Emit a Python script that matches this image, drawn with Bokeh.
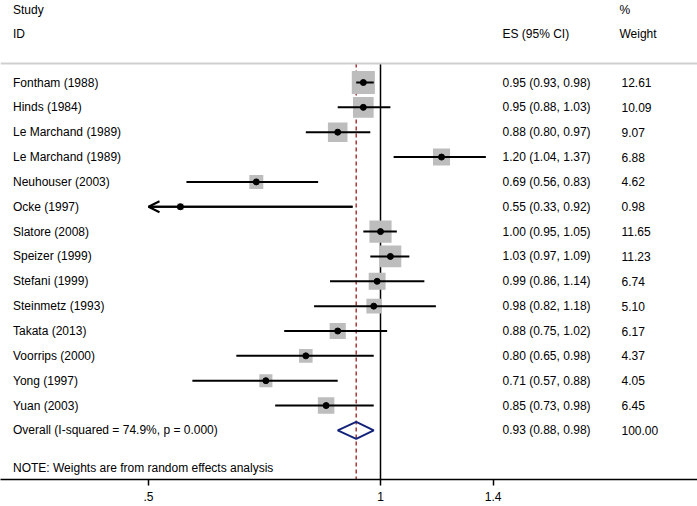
import math
from bokeh.plotting import figure
from bokeh.models import Range1d, FixedTicker, Arrow, OpenHead, Span, ColumnDataSource
from bokeh.core.properties import value
from bokeh.embed import file_html
from bokeh.resources import INLINE

# ---------------- data ----------------
studies = ["Fontham (1988)", "Hinds (1984)", "Le Marchand (1989)", "Le Marchand (1989)",
           "Neuhouser (2003)", "Ocke (1997)", "Slatore (2008)", "Speizer (1999)",
           "Stefani (1999)", "Steinmetz (1993)", "Takata (2013)", "Voorrips (2000)",
           "Yong (1997)", "Yuan (2003)"]
es = [0.95, 0.95, 0.88, 1.20, 0.69, 0.55, 1.00, 1.03, 0.99, 0.98, 0.88, 0.80, 0.71, 0.85]
ci_lo = [0.93, 0.88, 0.80, 1.04, 0.56, 0.33, 0.95, 0.97, 0.86, 0.82, 0.75, 0.65, 0.57, 0.73]
ci_hi = [0.98, 1.03, 0.97, 1.37, 0.83, 0.92, 1.05, 1.09, 1.14, 1.18, 1.02, 0.98, 0.88, 0.98]
weights = [12.61, 10.09, 9.07, 6.88, 4.62, 0.98, 11.65, 11.23, 6.74, 5.10, 6.17, 4.37, 4.05, 6.45]
overall_es, overall_lo, overall_hi, overall_w = 0.93, 0.88, 0.98, 100.00
i_squared, p_value = 74.9, 0.000
tick_values = [0.5, 1, 1.4]
tick_labels = [".5", "1", "1.4"]
note = "NOTE: Weights are from random effects analysis"

# ---------------- layout helpers ----------------
FONT = value("Liberation Sans")
FS = "12px"
PX_ONE = 380.0          # frame pixel of x = 1
PX_PER_LN = 334.7
ROW0 = 82.0             # frame pixel of first row
ROW_H = 24.85
FW, FH = 697, 479

def xpx(px):
    return math.exp((px - PX_ONE) / PX_PER_LN)

def ypx(py):
    return (py - ROW0) / ROW_H

x_min_clip = min(tick_values)

p = figure(frame_width=FW, frame_height=FH, x_axis_type="log",
           x_range=Range1d(xpx(0), xpx(FW)), y_range=Range1d(ypx(FH), ypx(0)),
           output_backend="svg", toolbar_location=None, y_axis_location=None,
           min_border=0, min_border_left=0, min_border_right=0, min_border_top=0)
p.xgrid.visible = False
p.ygrid.visible = False
p.outline_line_color = None
p.background_fill_color = "white"
p.border_fill_color = "white"

n = len(studies)
rows = list(range(n))
overall_row = n
sep_y = ypx(63)

# header separator
p.add_layout(Span(location=sep_y, dimension="width", line_color="#cfcfcf", line_width=2))

# vertical lines
p.segment(x0=[1], x1=[1], y0=[sep_y], y1=[ypx(FH)], line_color="black", line_width=1.5)
p.segment(x0=[overall_es], x1=[overall_es], y0=[sep_y], y1=[ypx(FH)],
          line_color="#a8373a", line_width=1.5, line_dash="4 3")

# weight squares
src = ColumnDataSource(dict(
    y=rows, es=es, lo=[max(l, x_min_clip) for l in ci_lo], hi=ci_hi,
    size=[6.5 * math.sqrt(w) for w in weights]))
p.scatter(x="es", y="y", size="size", marker="square", source=src,
          fill_color="#bdbdbd", line_color=None)
p.segment(x0="lo", x1="hi", y0="y", y1="y", source=src, line_color="black", line_width=2)
p.scatter(x="es", y="y", size=6, marker="circle", source=src,
          fill_color="black", line_color="black")

# arrows for clipped CIs
for r, l, h in zip(rows, ci_lo, ci_hi):
    if l < x_min_clip:
        p.add_layout(Arrow(end=OpenHead(size=11, line_width=2, line_color="black"),
                           x_start=h, y_start=r, x_end=x_min_clip, y_end=r,
                           line_width=2, line_color="black"))

# overall diamond
dh = 8.5 / ROW_H
p.patch(x=[overall_lo, overall_es, overall_hi, overall_es],
        y=[overall_row, overall_row - dh, overall_row, overall_row + dh],
        fill_color=None, line_color="#14237a", line_width=2)

# texts
lab_x = xpx(12.5)
es_x = xpx(502)
w_x = xpx(621)
wh_x = xpx(619)

def txt(xs, ys, texts, baseline="middle"):
    p.text(x=xs, y=ys, text=texts, text_font=FONT, text_font_size=FS,
           text_color="black", text_baseline=baseline, text_align="left")

txt([lab_x] * n, rows, studies)
txt([es_x] * n, rows,
    ["%.2f (%.2f, %.2f)" % (e, l, h) for e, l, h in zip(es, ci_lo, ci_hi)])
txt([w_x] * n, rows, ["%.2f" % w for w in weights])

txt([lab_x], [overall_row],
    ["Overall  (I-squared = %.1f%%, p = %.3f)" % (i_squared, p_value)])
txt([es_x], [overall_row], ["%.2f (%.2f, %.2f)" % (overall_es, overall_lo, overall_hi)])
txt([w_x], [overall_row], ["%.2f" % overall_w])

txt([lab_x], [ypx(467)], [note])

# headers
top_y = ypx(9)
txt([lab_x, wh_x], [top_y, top_y], ["Study", "%"])
hy = ypx(33)
txt([lab_x, es_x, wh_x], [hy, hy, hy], ["ID", "ES (95% CI)", "Weight"])

# axis
ax = p.xaxis[0]
ax.ticker = FixedTicker(ticks=tick_values)
ax.major_label_overrides = {v: l for v, l in zip(tick_values, tick_labels)}
ax.axis_line_color = "black"
ax.axis_line_width = 1.5
ax.major_tick_line_color = "black"
ax.major_tick_line_width = 1.5
ax.major_tick_out = 6
ax.major_tick_in = 0
ax.minor_tick_out = 0
ax.minor_tick_in = 0
ax.major_label_standoff = 6
ax.major_label_text_font = "Liberation Sans"
ax.major_label_text_font_size = FS
ax.major_label_text_color = "black"

open("out.html", "w").write(file_html(p, INLINE))
